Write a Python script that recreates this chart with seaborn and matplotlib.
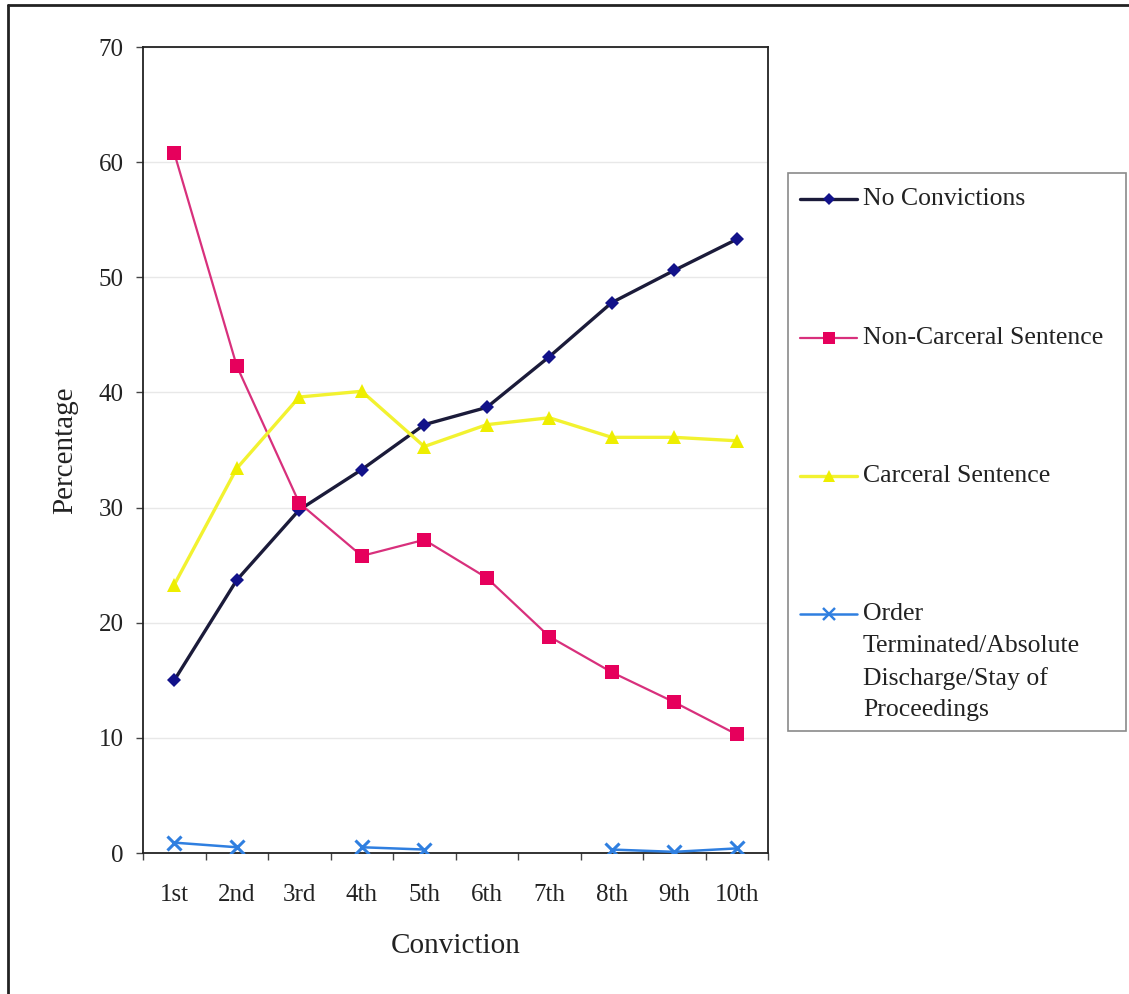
import numpy as np
import pandas as pd
import seaborn as sns
import matplotlib.pyplot as plt
from matplotlib.lines import Line2D
from matplotlib.patches import Rectangle

# Sentence outcome (%) by conviction number
convictions = ["1st", "2nd", "3rd", "4th", "5th", "6th", "7th", "8th", "9th", "10th"]
no_convictions = [15.0, 23.7, 29.8, 33.3, 37.2, 38.7, 43.1, 47.8, 50.6, 53.3]
non_carceral = [60.8, 42.3, 30.4, 25.8, 27.2, 23.9, 18.8, 15.7, 13.1, 10.3]
carceral = [23.3, 33.4, 39.6, 40.1, 35.3, 37.2, 37.8, 36.1, 36.1, 35.8]
order_terminated = [0.9, 0.5, np.nan, 0.5, 0.3, np.nan, np.nan, 0.3, 0.1, 0.4]

series_names = [
    "No Convictions",
    "Non-Carceral Sentence",
    "Carceral Sentence",
    "Order\nTerminated/Absolute\nDischarge/Stay of\nProceedings",
]
y_ticks = [0, 10, 20, 30, 40, 50, 60, 70]

sns.set_theme(style="white")
plt.rcParams["font.family"] = ["Liberation Serif", "DejaVu Serif"]
TXT = "#222222"

W, H = 1129, 994
fig = plt.figure(figsize=(W / 100, H / 100), dpi=100)
ax = fig.add_axes([143 / W, 1 - 853 / H, (768 - 143) / W, (853 - 47) / H])

styles = [
    dict(line="#1b1b3a", face="#12128a", marker="D", ms=7.5, lw=2.4, mew=0),
    dict(line="#d8307c", face="#e6005c", marker="s", ms=10, lw=1.6, mew=0),
    dict(line="#f2f230", face="#eeee00", marker="^", ms=10, lw=2.4, mew=0),
    dict(line="#2f7fe0", face="#2f7fe0", marker="x", ms=10, lw=1.8, mew=2.2),
]
values = [no_convictions, non_carceral, carceral, order_terminated]

# category positions are fixed once by the first full series
for vals, st in zip(values, styles):
    df = pd.DataFrame({"conv": convictions, "pct": vals})
    # split on gaps so that missing values break the line
    grp = df["pct"].isna().cumsum()
    for _, seg in df[df["pct"].notna()].groupby(grp[df["pct"].notna()]):
        sns.lineplot(data=seg, x="conv", y="pct", ax=ax, color=st["line"],
                     lw=st["lw"], marker=st["marker"], markersize=st["ms"],
                     markerfacecolor=st["face"], markeredgecolor=st["face"],
                     markeredgewidth=st["mew"], sort=False, legend=False, zorder=3)

ax.set_xlim(-0.5, 9.5)
ax.set_ylim(0, 70)
ax.set_yticks(y_ticks)
ax.set_xticks(range(len(convictions)))
ax.set_xticklabels(convictions)
ax.set_xticks(np.arange(-0.5, 10, 1), minor=True)
ax.yaxis.grid(True, color="#e8e8e8", lw=1)
ax.set_axisbelow(True)

for s in ax.spines.values():
    s.set_color("#222222")
    s.set_linewidth(1.3)

ax.tick_params(axis="y", which="major", direction="out", length=5, width=1,
               color="#444444", pad=9, labelsize=18, labelcolor=TXT, left=True)
ax.tick_params(axis="x", which="major", length=0, pad=22, labelsize=18, labelcolor=TXT)
ax.tick_params(axis="x", which="minor", direction="out", length=5, width=1,
               color="#444444", bottom=True)

ax.set_xlabel("Conviction", fontsize=21, color=TXT, labelpad=20)
ax.set_ylabel("Percentage", fontsize=21, color=TXT, labelpad=15)


def fx(px):
    return px / W


def fy(py):
    return 1 - py / H


# legend panel
fig.add_artist(Rectangle((fx(788), fy(731)), fx(1126) - fx(788), fy(173) - fy(731),
                         transform=fig.transFigure, fill=False, ec="#8a8a8a", lw=1.2))
entry_y = [199, 338, 476, 614]
for name, st, ypx in zip(series_names, styles, entry_y):
    fig.add_artist(Line2D([fx(800), fx(857)], [fy(ypx), fy(ypx)], transform=fig.transFigure,
                          color=st["line"], lw=st["lw"]))
    fig.add_artist(Line2D([fx(828.5)], [fy(ypx)], transform=fig.transFigure, ls="none",
                          marker=st["marker"], ms=st["ms"] * 0.8, mfc=st["face"],
                          mec=st["face"], mew=st["mew"] * 0.8))
    fig.text(fx(863), fy(ypx - 11), name, fontsize=18.5, color=TXT, va="top", ha="left",
             linespacing=1.56)

# page frame (left and top edges)
fig.add_artist(Line2D([fx(8), fx(8)], [0, fy(5)], transform=fig.transFigure, color="#222", lw=2))
fig.add_artist(Line2D([fx(8), 1], [fy(5), fy(5)], transform=fig.transFigure, color="#222", lw=2))

fig.savefig("out.png", dpi=100, facecolor="white")
